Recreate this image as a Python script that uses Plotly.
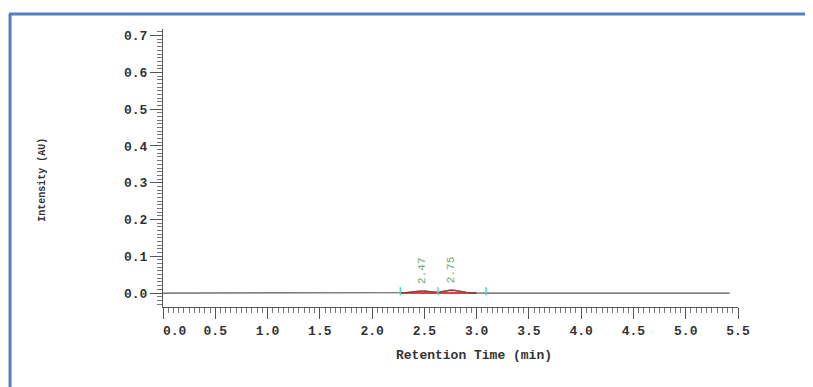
import plotly.graph_objects as go

# Chromatogram signal (retention time in min, intensity in AU)
times = [0.0, 2.27, 2.33, 2.39, 2.44, 2.47, 2.51, 2.56, 2.60, 2.63, 2.67, 2.71, 2.75, 2.79, 2.84, 2.90, 2.96, 3.00, 3.09, 5.42]
intensity = [0.0, 0.0, 0.001, 0.003, 0.005, 0.0055, 0.005, 0.003, 0.002, 0.0015, 0.004, 0.007, 0.008, 0.007, 0.004, 0.002, 0.0005, 0.0, 0.0, 0.0]

# Integrated region (red)
area_start, area_end = 2.27, 3.00

# Peak labels
peak_times = [2.47, 2.75]
peak_labels = ["2.47", "2.75"]

# Baseline markers (cyan)
marker_times = [2.27, 2.63, 3.09]

x_ticks = [0.0, 0.5, 1.0, 1.5, 2.0, 2.5, 3.0, 3.5, 4.0, 4.5, 5.0, 5.5]
x_ticktext = ["\u00a0\u00a0\u00a00.0", "0.5", "1.0", "1.5", "2.0", "2.5", "3.0", "3.5", "4.0", "4.5", "5.0", "5.5"]
y_ticks = [0.0, 0.1, 0.2, 0.3, 0.4, 0.5, 0.6, 0.7]
y_ticktext = ["0.0", "0.1", "0.2", "0.3", "0.4", "0.5", "0.6", "0.7"]

FONT = "Liberation Mono"

fig = go.Figure()

# red filled integration area
ax = [t for t in times if area_start <= t <= area_end]
ay = [intensity[times.index(t)] for t in ax]
fig.add_trace(go.Scatter(x=ax, y=ay, mode="lines", fill="tozeroy",
                         line=dict(color="rgba(230,40,40,0.9)", width=1.2),
                         fillcolor="rgba(240,80,80,0.3)", hoverinfo="skip"))
fig.add_trace(go.Scatter(x=[area_start, area_end], y=[0, 0], mode="lines",
                         line=dict(color="rgba(230,40,40,0.9)", width=2), hoverinfo="skip"))

# signal
fig.add_trace(go.Scatter(x=times, y=intensity, mode="lines",
                         line=dict(color="#555555", width=1.2)))

# cyan markers
mx, my = [], []
for t in marker_times:
    mx += [t, t, None]
    my += [-0.006, 0.016, None]
fig.add_trace(go.Scatter(x=mx, y=my, mode="lines",
                         line=dict(color="#4fd6d6", width=1.5), hoverinfo="skip"))

for t, lab in zip(peak_times, peak_labels):
    fig.add_annotation(x=t, y=0.02, text=lab, showarrow=False, textangle=-90,
                       xanchor="center", yanchor="bottom",
                       font=dict(family=FONT, size=11, color="#6aa86a"))

# axis titles
fig.add_annotation(xref="paper", yref="paper", x=0.541, y=-0.207,
                   text="<b>Retention Time (min)</b>", showarrow=False,
                   font=dict(family=FONT, size=13, color="#333333"))
fig.add_annotation(xref="paper", yref="paper", x=-0.222, y=0.457,
                   text="<b>Intensity (AU)</b>", showarrow=False, textangle=-90,
                   font=dict(family=FONT, size=10, color="#333333"))

# blue frame (left and top)
frame = dict(color="#4f81bd", width=3)
fig.add_shape(type="line", xref="paper", yref="paper", x0=-0.266, x1=-0.266,
              y0=1.054, y1=-0.3, line=frame)
fig.add_shape(type="line", xref="paper", yref="paper", x0=-0.268, x1=1.14,
              y0=1.054, y1=1.054, line=frame)

# the page body adds an 8px offset at top-left, so the figure is sized 8px smaller
fig.update_layout(
    width=805, height=379,
    margin=dict(l=155, r=75, t=21, b=80),
    paper_bgcolor="white", plot_bgcolor="white",
    showlegend=False,
    font=dict(family=FONT, color="#333333"),
)
fig.update_xaxes(range=[0, 5.5], showgrid=False, zeroline=False,
                 showline=True, linecolor="#555555", linewidth=1,
                 tickmode="array", tickvals=x_ticks, ticktext=x_ticktext,
                 ticks="outside", ticklen=11, tickcolor="#555555",
                 tickfont=dict(family=FONT, size=13, color="#333333", weight="bold"),
                 minor=dict(dtick=0.05, ticks="outside", ticklen=5, tickcolor="#777777"))
fig.update_yaxes(range=[-0.038, 0.718], showgrid=False, zeroline=False,
                 showline=True, linecolor="#555555", linewidth=1,
                 tickmode="array", tickvals=y_ticks, ticktext=y_ticktext,
                 ticks="outside", ticklen=12, tickcolor="#555555",
                 tickfont=dict(family=FONT, size=13, color="#333333", weight="bold"),
                 minor=dict(dtick=0.01, ticks="outside", ticklen=5, tickcolor="#777777"))

fig.write_html("out.html")
